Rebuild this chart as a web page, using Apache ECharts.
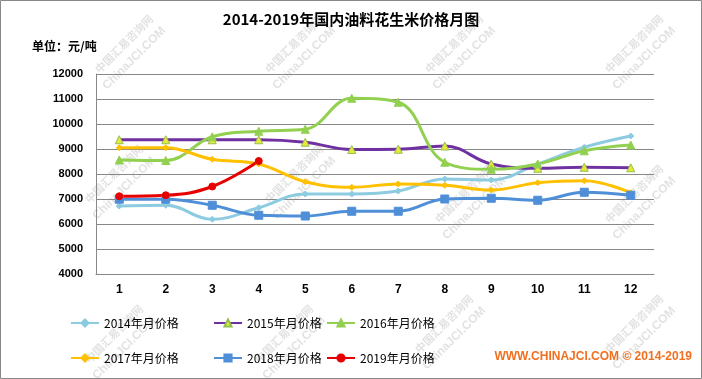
<!DOCTYPE html>
<html><head><meta charset="utf-8">
<script src="https://cdn.jsdelivr.net/npm/echarts@6/dist/echarts.min.js"></script>
<style>html,body{margin:0;padding:0;background:#fff}#c{width:702px;height:379px}</style>
</head><body><div id="c"></div>
<script>
const months = ['1','2','3','4','5','6','7','8','9','10','11','12'];
const yTicks = [4000, 12000, 1000];
const s2014 = [6720, 6750, 6190, 6650, 7200, 7200, 7320, 7800, 7760, 8400, 9070, 9520];
const s2015 = [9370, 9370, 9370, 9370, 9270, 8980, 8990, 9120, 8400, 8230, 8270, 8250];
const s2016 = [8560, 8540, 9490, 9710, 9790, 11030, 10870, 8470, 8190, 8400, 8930, 9160];
const s2017 = [9050, 9050, 8590, 8400, 7690, 7470, 7600, 7550, 7360, 7650, 7730, 7250];
const s2018 = [6990, 6990, 6750, 6350, 6320, 6510, 6510, 7000, 7030, 6950, 7270, 7150];
const s2019 = [7110, 7150, 7500, 8520];
const names = ['2014年月价格','2015年月价格','2016年月价格','2017年月价格','2018年月价格','2019年月价格'];

const chart = echarts.init(document.getElementById('c'));
const F = '"Noto Sans CJK SC", "Liberation Sans", sans-serif';
function mk(name, data, color, symbol, size, symColor, symBorder) {
  return {
    name, type: 'line', data, smooth: 0.4, symbol, symbolSize: size,
    lineStyle: { color, width: 3 },
    itemStyle: { color: symColor || color, borderColor: symBorder || symColor || color, borderWidth: 1 },
    emphasis: { disabled: true }
  };
}
const wm = [];
const wmPos = [[120,40],[290,40],[450,40],[630,40],[110,170],[290,170],[460,190],[630,190],[110,330],[280,330],[440,320],[630,320]];
wmPos.forEach(p => {
  wm.push({ type:'text', x:p[0], y:p[1], rotation: Math.PI/4, silent:true, z:-1,
    style:{ text:'中国汇易咨询网', fill:'rgba(150,150,150,0.28)', font:'bold 11px "Noto Sans CJK SC"', textAlign:'center' } });
  wm.push({ type:'text', x:p[0]+10, y:p[1]+14, rotation: Math.PI/4, silent:true, z:-1,
    style:{ text:'ChinaJCI.COM', fill:'rgba(150,150,150,0.28)', font:'bold 12px "Liberation Sans"', textAlign:'center' } });
});
const legPos = [[70,317],[213,317],[326,317],[70,352],[213,352],[326,352]];
chart.setOption({
  backgroundColor: '#fff',
  animation: false,
  title: [
    { text: '2014-2019年国内油料花生米价格月图', left: 'center', top: 7,
      textStyle: { fontFamily: F, fontSize: 15, fontWeight: 'bold', color: '#000' } },
    { text: '单位：元/吨', left: 27, top: 35,
      textStyle: { fontFamily: F, fontSize: 12, fontWeight: 'bold', color: '#000' } }
  ],
  legend: names.map((n, i) => ({
    data: [n], left: legPos[i][0], top: legPos[i][1], itemWidth: 28, itemHeight: 9, itemGap: 4, padding: 0,
    textStyle: { fontFamily: F, fontSize: 12, color: '#000' }, selectedMode: false
  })),
  grid: { left: 96, right: 48, top: 74, bottom: 105 },
  xAxis: {
    type: 'category', data: months, boundaryGap: true,
    axisLine: { show: true, lineStyle: { color: '#888' } }, axisTick: { show: false },
    axisLabel: { fontFamily: '"Liberation Sans"', fontSize: 12, fontWeight: 'bold', color: '#000', margin: 10 }
  },
  yAxis: {
    type: 'value', min: yTicks[0], max: yTicks[1], interval: yTicks[2],
    axisLine: { show: true, lineStyle: { color: '#888' } }, axisTick: { show: false },
    splitLine: { lineStyle: { color: '#888', width: 1 } },
    axisLabel: { fontFamily: '"Liberation Sans"', fontSize: 11, fontWeight: 'bold', color: '#000', margin: 13,
      formatter: v => String(v) }
  },
  graphic: wm.concat([
    { type:'rect', shape:{x:0.5,y:0.5,width:701,height:378}, style:{fill:'none', stroke:'#888', lineWidth:1}, silent:true },
    { type:'text', right: 10, top: 351, style:{ text:'WWW.CHINAJCI.COM © 2014-2019', fill:'#f07020', font:'bold 12px "Liberation Sans Narrow", "Liberation Sans"' } }
  ]),
  series: [
    mk(names[0], s2014, '#8ccbe0', 'diamond', 6),
    mk(names[1], s2015, '#7030a0', 'triangle', 8, '#e8e83a', '#92c050'),
    mk(names[2], s2016, '#92d050', 'triangle', 8),
    mk(names[3], s2017, '#ffc000', 'diamond', 6),
    mk(names[4], s2018, '#4f8fd8', 'rect', 8),
    mk(names[5], s2019, '#e80000', 'circle', 7)
  ]
});
</script></body></html>
